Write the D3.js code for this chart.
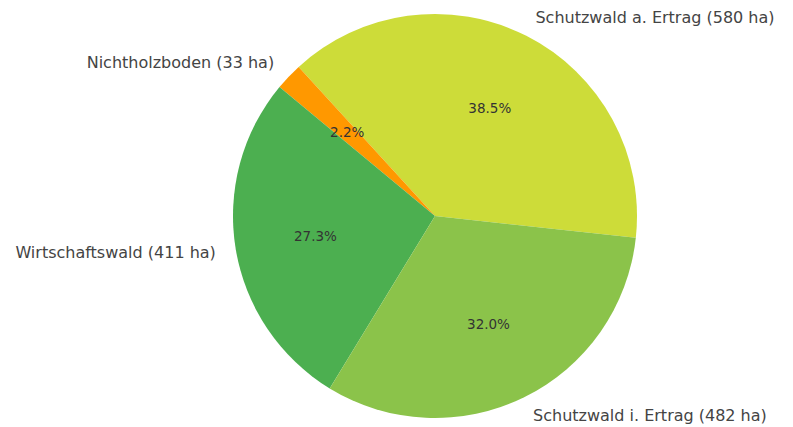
<!DOCTYPE html>
<html>
<head>
<meta charset="utf-8">
<script src="https://cdn.jsdelivr.net/npm/d3@7"></script>
<style>
  html, body { margin: 0; padding: 0; background: #fff; }
  svg { display: block; }
</style>
</head>
<body>
<svg id="chart" width="793" height="427"></svg>
<script>
// Data (counterclockwise order, as drawn)
const categories = ["Schutzwald a. Ertrag", "Nichtholzboden", "Wirtschaftswald", "Schutzwald i. Ertrag"];
const areasHa = [580, 33, 411, 482];
const colors = ["#cddc39", "#ff9800", "#4caf50", "#8bc34a"];
const startAngleDeg = -6.2; // math convention: ccw from 3 o'clock

const W = 793, H = 427;
const cx = 435, cy = 216, R = 202;

const svg = d3.select("#chart");
const g = svg.append("g").attr("transform", `translate(${cx},${cy})`);

const total = d3.sum(areasHa);
const d3Start = (90 - startAngleDeg) * Math.PI / 180;
const pie = d3.pie().sort(null).value(d => d)
  .startAngle(d3Start).endAngle(d3Start - 2 * Math.PI);
const arcs = pie(areasHa);

const arc = d3.arc().innerRadius(0).outerRadius(R);

g.selectAll("path.slice").data(arcs).enter().append("path")
  .attr("class", "slice")
  .attr("d", arc)
  .attr("fill", (d, i) => colors[i]);

function midPoint(d, r) {
  const a = (d.startAngle + d.endAngle) / 2; // d3 angle: clockwise from 12 o'clock
  return [r * Math.sin(a), -r * Math.cos(a)];
}

// percentage labels
g.selectAll("text.pct").data(arcs).enter().append("text")
  .attr("class", "pct")
  .attr("x", d => midPoint(d, 0.6 * R)[0])
  .attr("y", d => midPoint(d, 0.6 * R)[1])
  .attr("dy", "0.35em")
  .attr("text-anchor", "middle")
  .attr("font-family", "DejaVu Sans, sans-serif")
  .attr("font-size", 13.5)
  .attr("fill", "#333")
  .text(d => (d.value / total * 100).toFixed(1) + "%");

// category labels
g.selectAll("text.lbl").data(arcs).enter().append("text")
  .attr("class", "lbl")
  .attr("x", d => midPoint(d, 1.1 * R)[0])
  .attr("y", d => midPoint(d, 1.1 * R)[1])
  .attr("dy", "0.32em")
  .attr("text-anchor", d => midPoint(d, 1)[0] > 0 ? "start" : "end")
  .attr("font-family", "DejaVu Sans, sans-serif")
  .attr("font-size", 16)
  .attr("fill", "#444")
  .text((d, i) => `${categories[i]} (${areasHa[i]} ha)`);
</script>
</body>
</html>
